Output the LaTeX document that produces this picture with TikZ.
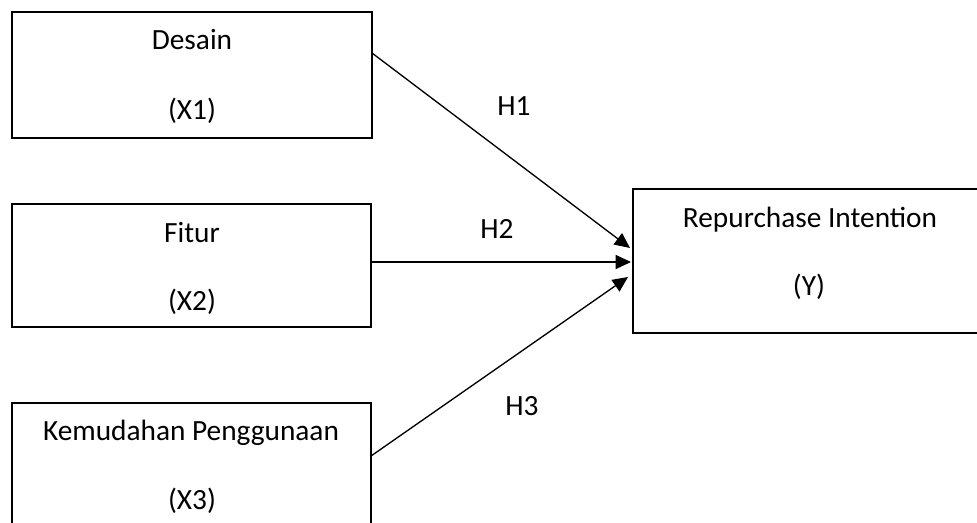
\documentclass[tikz,border=0pt]{standalone}
\usepackage{fontspec}
\setmainfont{Carlito}
\usetikzlibrary{arrows.meta}
\begin{document}
\begin{tikzpicture}[x=0.75pt,y=-0.75pt,
  box/.style={draw=black,line width=1.5pt,fill=none,inner sep=0pt},
  lbl/.style={font=\fontsize{22}{26}\selectfont,text height=0.68em,text depth=0.22em,inner sep=0pt},
  conn/.style={draw=black,line width=1pt,-{Triangle[length=11.5pt,width=10.5pt]}}]
\useasboundingbox[fill=white] (0,0) rectangle (977,522);
% boxes
\node[box,minimum width=270pt,minimum height=94.5pt] (x1) at (192,75) {};
\node[box,minimum width=269.25pt,minimum height=92.25pt] (x2) at (191.5,265.5) {};
\node[box,minimum width=269.25pt,minimum height=96pt] (x3) at (191.5,467) {};
\node[box,minimum width=273pt,minimum height=108pt] (y) at (815,261) {};
% texts
\node[lbl] (t1a) at (192,46) {Desain};
\node[lbl] (t1b) at (192,116) {(X1)};
\node[lbl] (t2a) at (192,239) {Fitur};
\node[lbl] (t2b) at (192,307) {(X2)};
\node[lbl] (t3a) at (191,437) {Kemudahan Penggunaan};
\node[lbl] (t3b) at (192,506) {(X3)};
\node[lbl] (tya) at (810,224) {Repurchase Intention};
\node[lbl] (tyb) at (809,292) {(Y)};
% connector endpoints
\coordinate (s1) at (372,53);
\coordinate (e1) at (630,248);
\coordinate (s2) at (371,262);
\coordinate (e2) at (631,262);
\coordinate (s3) at (371,456);
\coordinate (e3) at (628,277);
\draw[conn] (s1) -- (e1);
\draw[conn] (s2) -- (e2);
\draw[conn] (s3) -- (e3);
% hypothesis labels
\node[lbl] (h1) at (514,112) {H1};
\node[lbl] (h2) at (497,235) {H2};
\node[lbl] (h3) at (522,412) {H3};
\end{tikzpicture}
\end{document}
